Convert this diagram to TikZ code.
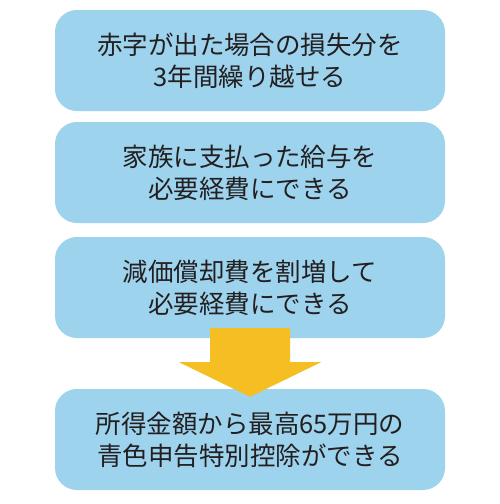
\documentclass[tikz,border=0pt]{standalone}
\usepackage{fontspec}
\setmainfont{Noto Sans CJK JP}
\usetikzlibrary{calc,positioning}
\definecolor{fundo}{HTML}{FFFFFF}
\definecolor{caixa}{HTML}{9ED3EE}
\definecolor{texto}{HTML}{231F20}
\definecolor{amarelo}{HTML}{F5BE23}

\begin{document}
\begin{tikzpicture}[x=1pt,y=1pt,
    passo/.style={fill=caixa, rounded corners=22pt, minimum width=390pt, minimum height=101pt,
      text=texto, align=center, inner sep=0pt,
      font=\fontsize{25.5pt}{32pt}\selectfont}]
  \useasboundingbox[fill=fundo] (0,0) rectangle (500,-504);
  \node[passo] (r1) at (250,-60.5) {赤字が出た場合の損失分を\\3年間繰り越せる};
  \node[passo] (r2) at (250,-172.5) {家族に支払った給与を\\必要経費にできる};
  \node[passo] (r3) at (250,-287.5) {減価償却費を割増して\\必要経費にできる};
  \node[passo] (r4) at (250,-439.5) {所得金額から最高65万円の\\青色申告特別控除ができる};
  % seta entre r3 e r4
  \fill[amarelo] ($(r3.south)+(-40,10)$) -- ($(r3.south)+(40,10)$) -- ($(r3.south)+(40,-24)$)
    -- ($(r3.south)+(71,-24)$) -- ($(r4.north)+(0,-8)$) -- ($(r3.south)+(-71,-24)$)
    -- ($(r3.south)+(-40,-24)$) -- cycle;
\end{tikzpicture}
\end{document}
